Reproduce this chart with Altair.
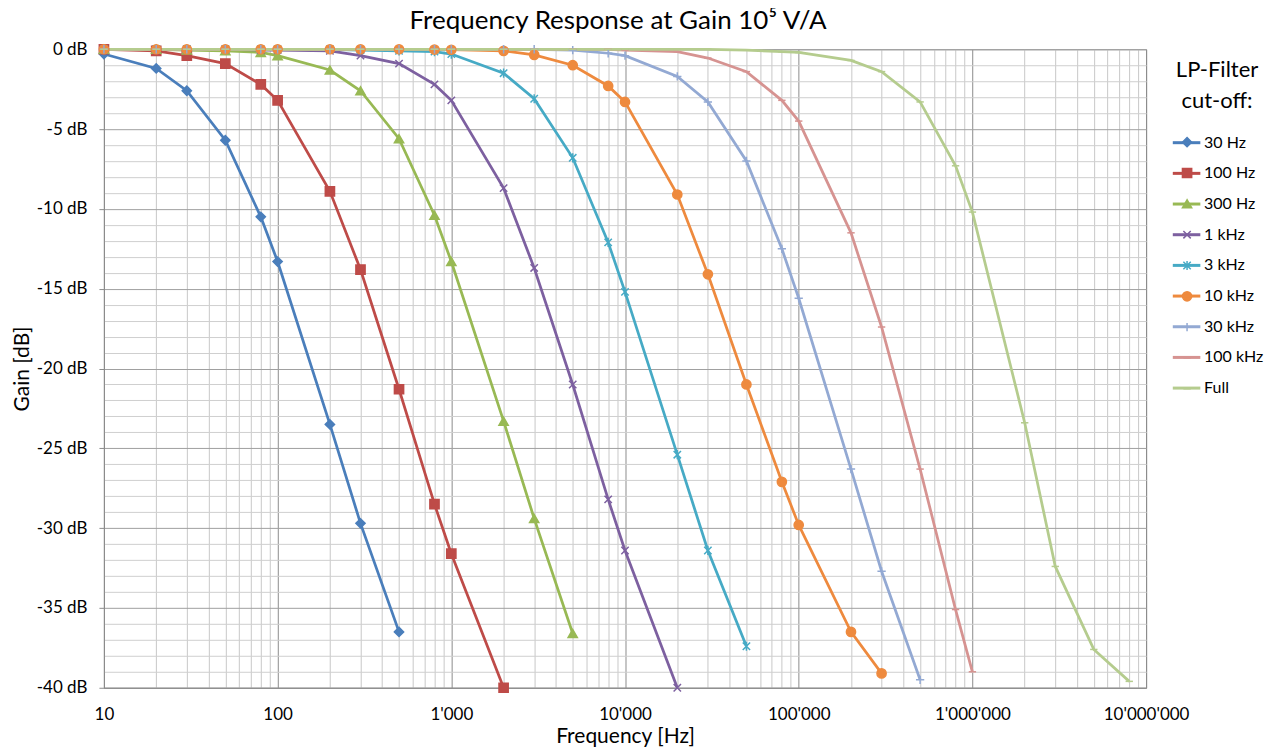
import altair as alt
import pandas as pd

FONT = "Lato"

# ---------------- data ----------------
freqs = [10, 20, 30, 50, 80, 100, 200, 300, 500, 800,
         1000, 2000, 3000, 5000, 8000, 10000, 20000, 30000, 50000, 80000,
         100000, 200000, 300000, 500000, 800000, 1000000, 2000000, 3000000, 5000000, 8000000]

series_names = ["30 Hz", "100 Hz", "300 Hz", "1 kHz", "3 kHz", "10 kHz", "30 kHz", "100 kHz", "Full"]

gain_30hz = [-0.3, -1.2, -2.6, -5.7, -10.5, -13.3, -23.5, -29.7, -36.5]
gain_100hz = [0, -0.1, -0.4, -0.9, -2.2, -3.2, -8.9, -13.8, -21.3, -28.5, -31.6, -40.0]
gain_300hz = [0, 0, -0.05, -0.1, -0.2, -0.4, -1.3, -2.6, -5.6, -10.4, -13.3, -23.3, -29.4, -36.6]
gain_1khz = [0, 0, 0, 0, -0.05, -0.05, -0.1, -0.4, -0.9, -2.2, -3.2, -8.7, -13.7, -21.0,
             -28.2, -31.4, -40.0]
gain_3khz = [0, 0, 0, 0, 0, 0, 0, -0.05, -0.1, -0.15, -0.3, -1.5, -3.1, -6.8, -12.1, -15.2,
             -25.4, -31.4, -37.4]
gain_10khz = [0, 0, 0, 0, 0, 0, 0, 0, 0, -0.02, -0.03, -0.1, -0.35, -1.0, -2.3, -3.3, -9.1,
              -14.1, -21.0, -27.1, -29.8, -36.5, -39.1]
gain_30khz = [0, 0, 0, 0, 0, 0, 0, 0, 0, 0, 0, 0, 0, -0.05, -0.25, -0.4, -1.7, -3.3, -7.0,
              -12.5, -15.6, -26.3, -32.7, -39.5]
gain_100khz = [0, 0, 0, 0, 0, 0, 0, 0, 0, 0, 0, 0, 0, 0, 0, -0.05, -0.15, -0.55, -1.4, -3.2,
               -4.5, -11.5, -17.4, -26.3, -35.1, -39.0]
gain_full = [0, 0, 0, 0, 0, 0, 0, 0, 0, 0, 0, 0, 0, 0, 0, 0, 0, 0, -0.05, -0.15, -0.2, -0.7,
             -1.4, -3.3, -7.3, -10.2, -23.4, -32.4, -37.6, -39.6]

all_gains = [gain_30hz, gain_100hz, gain_300hz, gain_1khz, gain_3khz,
             gain_10khz, gain_30khz, gain_100khz, gain_full]

series_colors = ["#4A7EBB", "#BE4B48", "#98B954", "#7D60A0", "#46AAC5",
                 "#EE8A3E", "#93A9D3", "#D69391", "#B5CC8E"]

marker_shapes = [
    "diamond",
    "square",
    "triangle-up",
    "M-0.8,-0.8L0.8,0.8M-0.8,0.8L0.8,-0.8",
    "M-0.8,-0.8L0.8,0.8M-0.8,0.8L0.8,-0.8M0,-1L0,1",
    "circle",
    "M-0.9,0L0.9,0M0,-0.9L0,0.9",
    "M-0.8,0L0.8,0",
    "M-0.8,0L0.8,0",
]

x_tick_values = [10, 100, 1000, 10000, 100000, 1000000, 10000000]
x_tick_labels = ["10", "100", "1'000", "10'000", "100'000", "1'000'000", "10'000'000"]
y_tick_values = [0, -5, -10, -15, -20, -25, -30, -35, -40]
y_tick_labels = ["0 dB", "-5 dB", "-10 dB", "-15 dB", "-20 dB", "-25 dB", "-30 dB", "-35 dB", "-40 dB"]

legend_title = ["LP-Filter", "cut-off:"]
chart_title = "Frequency Response at Gain 10\u2075 V/A"

# ---------------- table ----------------
rows = []
for name, gains in zip(series_names, all_gains):
    for f, g in zip(freqs, gains):
        rows.append({"freq": f, "gain": g, "series": name, "marker": name})
df = pd.DataFrame(rows)

# grid positions (1..9 x each decade)
x_grid = []
for d in x_tick_values[:-1]:
    for m in range(1, 10):
        x_grid.append(d * m)
x_grid.append(x_tick_values[-1])
y_grid = list(range(-40, 1))

x_label_expr = " : ".join(f'datum.value == {v} ? "{l}"' for v, l in zip(x_tick_values, x_tick_labels)) + ' : ""'
y_label_expr = " : ".join(f'datum.value == {v} ? "{l}"' for v, l in zip(y_tick_values, y_tick_labels)) + ' : ""'

decade_test = "abs(log(datum.value)/LN10 - round(log(datum.value)/LN10)) < 0.000001"

x_enc = alt.X(
    "freq:Q",
    scale=alt.Scale(type="log", domain=[10, 10000000], nice=False),
    axis=alt.Axis(
        title="Frequency [Hz]",
        values=x_grid,
        labelExpr=x_label_expr,
        labelOverlap=False,
        labelFlush=False,
        labelFontSize=17,
        labelPadding=19,
        labelColor="#000000",
        titleFontSize=21,
        titleFontWeight="normal",
        titleColor="#000000",
        titlePadding=3,
        tickSize=0,
        domainColor="#8c8c8c",
        gridColor={"condition": {"test": decade_test, "value": "#8c8c8c"}, "value": "#c8c8c8"},
        gridWidth=1,
    ),
)

y_enc = alt.Y(
    "gain:Q",
    scale=alt.Scale(domain=[-40, 0], nice=False),
    axis=alt.Axis(
        title="Gain [dB]",
        values=y_grid,
        labelExpr=y_label_expr,
        labelOverlap=False,
        labelFontSize=17,
        labelPadding=12,
        labelColor="#000000",
        titleFontSize=21,
        titleFontWeight="normal",
        titleColor="#000000",
        titlePadding=4,
        tickSize=5,
        tickColor={"condition": {"test": "datum.value % 5 == 0", "value": "#8c8c8c"}, "value": "transparent"},
        domainColor="#8c8c8c",
        gridColor={"condition": {"test": "datum.value % 5 == 0", "value": "#a0a0a0"}, "value": "#cfcfcf"},
        gridWidth=1,
    ),
)

line_legend = alt.Legend(
    title=legend_title,
    orient="none",
    legendX=1068,
    legendY=11,
    symbolType="stroke",
    symbolSize=760,
    symbolStrokeWidth=3,
    labelFontSize=16,
    labelOffset=2,
    rowPadding=6.7,
    titleFontSize=22,
    titleFontWeight="normal",
    titleLineHeight=31,
    titleAlign="center",
    titleAnchor="middle",
    titlePadding=14,
    labelColor="#000000",
    titleColor="#000000",
)

marker_legend = alt.Legend(
    title=legend_title,
    orient="none",
    legendX=1074,
    legendY=18,
    symbolSize=85,
    symbolStrokeWidth=1.5,
    labelFontSize=16,
    labelOffset=2,
    rowPadding=14.85,
    titleFontSize=22,
    titleFontWeight="normal",
    titleLineHeight=31,
    titleAlign="center",
    titleAnchor="middle",
    titlePadding=14,
    labelColor="transparent",
    titleColor="transparent",
)

lines = alt.Chart(df).mark_line(strokeWidth=2.75).encode(
    x=x_enc,
    y=y_enc,
    color=alt.Color("series:N", scale=alt.Scale(domain=series_names, range=series_colors), legend=line_legend),
    detail="series:N",
)

mscale_fill = alt.Scale(domain=series_names, range=series_colors)
points = alt.Chart(df).mark_point(filled=True, size=85, strokeWidth=1.5, opacity=1).encode(
    x=x_enc,
    y=y_enc,
    fill=alt.Fill("marker:N", scale=mscale_fill, legend=marker_legend),
    stroke=alt.Stroke("marker:N", scale=mscale_fill, legend=marker_legend),
    shape=alt.Shape("marker:N", scale=alt.Scale(domain=series_names, range=marker_shapes), legend=marker_legend),
)

chart = alt.layer(lines, points).resolve_scale(color="independent").properties(
    width=1043,
    height=639,
    title=alt.Title(chart_title, fontSize=26, fontWeight="normal",
                    font=FONT, color="#000000", anchor="middle", offset=6, dx=-7),
    autosize=alt.AutoSizeParams(type="none"),
    padding={"left": 96, "top": 41, "right": 120, "bottom": 60},
).configure(
    font=FONT,
).configure_view(
    stroke="#8c8c8c",
).configure_axis(
    labelFont=FONT,
    titleFont=FONT,
).configure_legend(
    labelFont=FONT,
    titleFont=FONT,
)

chart.save("out.html", embed_options={"renderer": "svg", "actions": False})
